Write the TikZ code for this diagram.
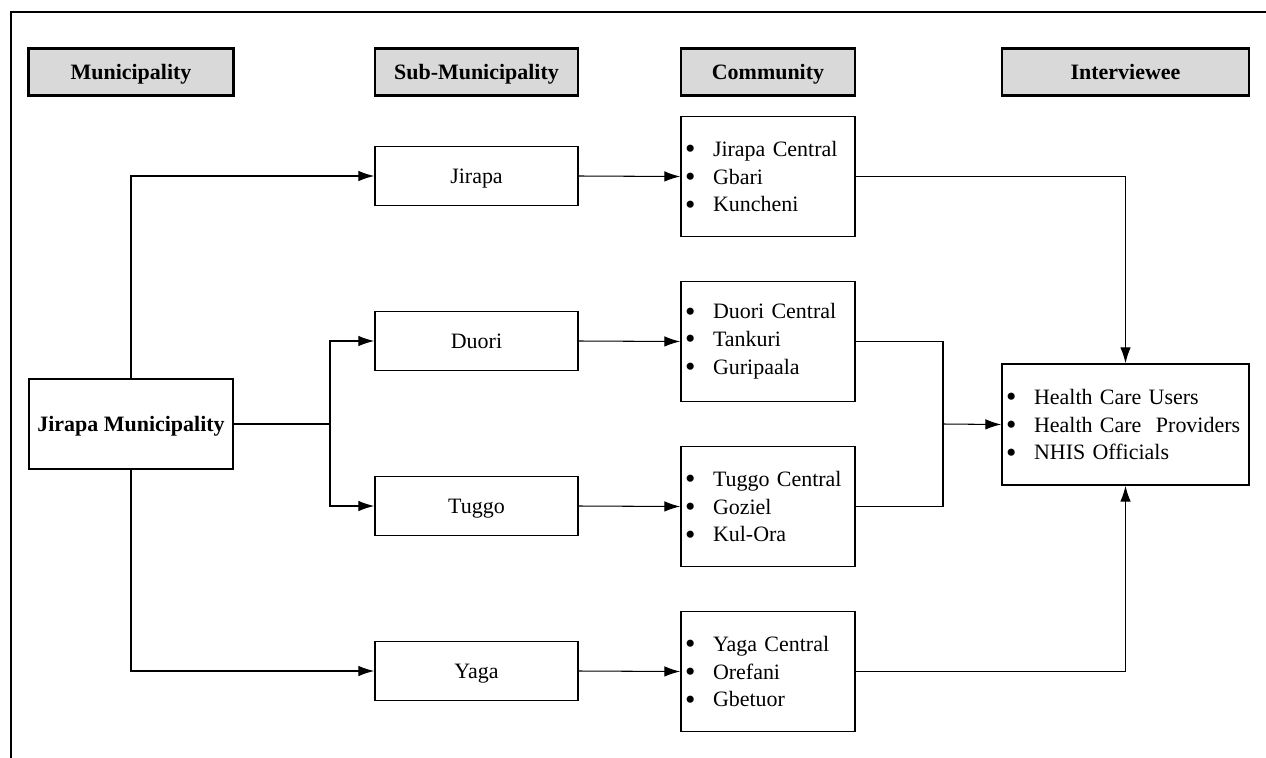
\documentclass[tikz,border=0pt]{standalone}
\usepackage{fontspec}
\setmainfont{Liberation Serif}
\usetikzlibrary{arrows.meta}
\definecolor{headgray}{HTML}{D9D9D9}
\newcommand{\itm}[1]{\makebox[0.56cm][l]{\smash{\raisebox{-0.1em}{\scalebox{1.35}{\textbullet}}}}#1}

\begin{document}
\begin{tikzpicture}[x=0.02cm,y=-0.02cm,
		every node/.style={font=\fontsize{12.5}{15.9}\selectfont},
		headbox/.style={draw,line width=1.5pt,fill=headgray,minimum height=0.94cm,inner sep=0pt,text depth=0pt,font=\fontsize{12.5}{15.9}\selectfont\bfseries},
		subbox/.style={draw,line width=1pt,minimum width=4.06cm,minimum height=1.18cm,inner sep=0pt,text depth=0pt},
		listbox/.style={draw,line width=1pt,align=left,inner sep=0pt,inner xsep=0.08cm,minimum height=2.4cm},
		line/.style={draw,line width=0.6pt},
		arr/.style={line,-{Latex[length=9pt,width=6pt]}}]
		\clip (0,0) rectangle (1266,757);
		\useasboundingbox (0,0) rectangle (1266,757);
		\draw [line width=1.6pt] (11,12) rectangle (1290,790);
		\node [headbox,minimum width=4.1cm] (hmun) at (131,72) {Municipality};
		\node [headbox,minimum width=4.06cm] (hsub) at (476.5,72) {Sub-Municipality};
		\node [headbox,minimum width=3.48cm] (hcom) at (768,72) {Community};
		\node [headbox,minimum width=4.94cm] (hint) at (1125.5,72) {Interviewee};
		\node [draw,line width=1pt,minimum width=4.08cm,minimum height=1.8cm,inner sep=0pt,text depth=0pt,font=\fontsize{12.5}{15.9}\selectfont\bfseries] (jm) at (131,424) {Jirapa Municipality};
		\node [subbox] (sj) at (476.5,176) {Jirapa};
		\node [subbox] (sd) at (476.5,341) {Duori};
		\node [subbox] (st) at (476.5,506) {Tuggo};
		\node [subbox] (sy) at (476.5,671) {Yaga};
		\node [listbox,text width=3.32cm] (cj) at (768,176.5) {\itm{Jirapa Central}\\\itm{Gbari}\\\itm{Kuncheni}};
		\node [listbox,text width=3.32cm] (cd) at (768,341.5) {\itm{Duori Central}\\\itm{Tankuri}\\\itm{Guripaala}};
		\node [listbox,text width=3.32cm] (ct) at (768,506.5) {\itm{Tuggo Central}\\\itm{Goziel}\\\itm{Kul-Ora}};
		\node [listbox,text width=3.32cm] (cy) at (768,671.5) {\itm{Yaga Central}\\\itm{Orefani}\\\itm{Gbetuor}};
		\node [listbox,text width=4.78cm,minimum height=2.42cm] (iv) at (1125.5,424.5) {\itm{Health Care Users}\\\itm{Health Care\ \ Providers}\\\itm{NHIS Officials}};
		\coordinate (jsplit) at (330,424);
		\coordinate (isplit) at (943,424);
		\draw [arr] (jm.north) |- (sj.west);
		\draw [arr] (jm.south) |- (sy.west);
		\draw [line] (jm.east) -- (jsplit);
		\draw [arr] (jsplit) |- (sd.west);
		\draw [arr] (jsplit) |- (st.west);
		\draw [arr] (sj.east) -- (cj.west);
		\draw [arr] (sd.east) -- (cd.west);
		\draw [arr] (st.east) -- (ct.west);
		\draw [arr] (sy.east) -- (cy.west);
		\draw [arr] (cj.east) -| (iv.north);
		\draw [arr] (cy.east) -| (iv.south);
		\draw [line] (cd.east) -| (isplit);
		\draw [line] (ct.east) -| (isplit);
		\draw [arr] (isplit) -- (iv.west);
\end{tikzpicture}
\end{document}
